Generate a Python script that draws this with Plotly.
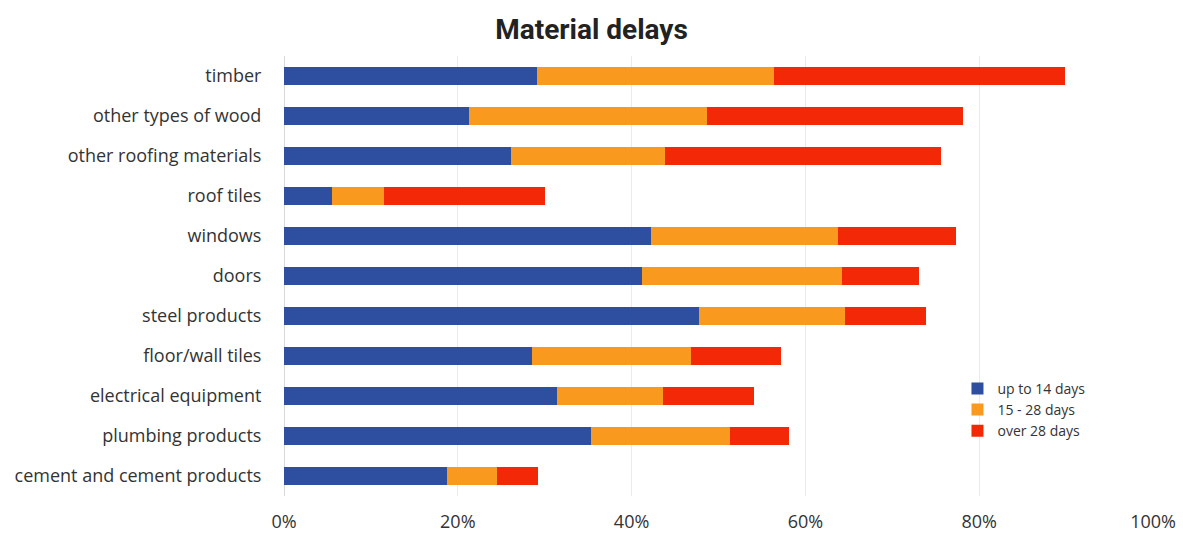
import plotly.graph_objects as go

categories = [
    "timber", "other types of wood", "other roofing materials", "roof tiles",
    "windows", "doors", "steel products", "floor/wall tiles",
    "electrical equipment", "plumbing products", "cement and cement products",
]
up_to_14 = [29.1, 21.3, 26.1, 5.5, 42.2, 41.2, 47.8, 28.5, 31.4, 35.3, 18.7]
days_15_28 = [27.3, 27.4, 17.7, 6.0, 21.6, 23.0, 16.8, 18.3, 12.2, 16.0, 5.8]
over_28 = [33.5, 29.4, 31.8, 18.5, 13.5, 8.9, 9.3, 10.4, 10.5, 6.8, 4.7]

tick_values = [0, 20, 40, 60, 80, 100]
tick_labels = ["0%", "20%", "40%", "60%", "80%", "100%"]

series = [
    ("up to 14 days", up_to_14, "#2E4FA0"),
    ("15 - 28 days", days_15_28, "#F99A1F"),
    ("over 28 days", over_28, "#F22807"),
]

fig = go.Figure()
for name, vals, color in series:
    fig.add_trace(go.Bar(
        y=categories, x=vals, name=name, orientation="h",
        marker=dict(color=color, line=dict(width=0)), width=0.43,
    ))

fig.update_layout(
    barmode="stack",
    width=1183, height=534,
    margin=dict(l=284, r=30, t=56, b=38),
    paper_bgcolor="white", plot_bgcolor="white",
    title=dict(text="<b>Material delays</b>", x=0.5, xanchor="center",
               y=0.945, yanchor="middle",
               font=dict(family="Roboto", size=28, color="#222222")),
    font=dict(family="Open Sans", color="#333333"),
    legend=dict(x=0.775, y=0.28, xanchor="left", yanchor="top",
                traceorder="normal", font=dict(family="Open Sans", size=14, color="#333333"),
                itemwidth=30, tracegroupgap=0, bgcolor="rgba(0,0,0,0)"),
    showlegend=True,
)
fig.update_xaxes(
    range=[0, 100], tickmode="array", tickvals=tick_values, ticktext=tick_labels,
    showgrid=True, gridcolor="#EBEBEB", gridwidth=1, zeroline=True,
    zerolinecolor="#D9D9D9", zerolinewidth=1, automargin=False,
    tickfont=dict(family="Open Sans", size=18, color="#333333"),
    ticks="outside", ticklen=9, tickcolor="rgba(0,0,0,0)",
)
fig.update_yaxes(
    categoryorder="array", categoryarray=categories, autorange="reversed",
    tickfont=dict(family="Open Sans", size=18, color="#333333"),
    ticks="outside", ticklen=18, tickcolor="rgba(0,0,0,0)",
    showgrid=False, automargin=False,
)

fig.write_html("out.html")
